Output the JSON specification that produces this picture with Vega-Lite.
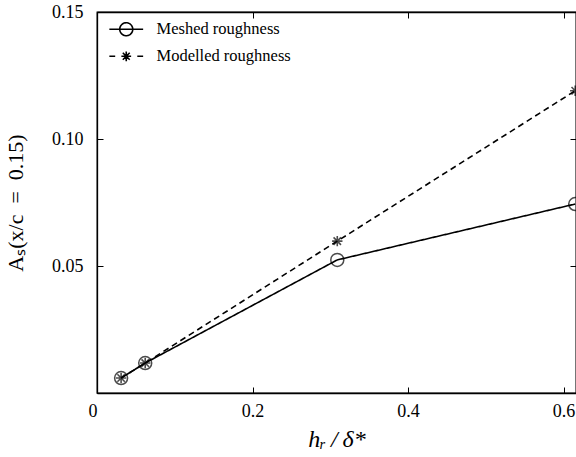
{
  "$schema": "https://vega.github.io/schema/vega-lite/v6.json",
  "width": 479,
  "height": 381,
  "autosize": "none",
  "padding": {"left": 97, "top": 12, "right": 0, "bottom": 64},
  "background": "white",
  "config": {
    "view": {"stroke": "black", "strokeWidth": 1.3},
    "font": "Liberation Serif",
    "axis": {
      "labelFont": "Liberation Serif",
      "titleFont": "Liberation Serif",
      "labelFontSize": 18,
      "titleFontSize": 22,
      "titleFontWeight": "normal",
      "labelColor": "black",
      "titleColor": "black",
      "domainColor": "black",
      "tickColor": "black",
      "domainWidth": 1.3,
      "tickWidth": 1,
      "grid": false,
      "tickSize": -6
    },
    "legend": {
      "labelFont": "Liberation Serif",
      "labelFontSize": 16.5,
      "labelColor": "black"
    }
  },
  "data": {
    "values": [
      {"series": "Meshed roughness", "hr": 0.031, "As": 0.0059},
      {"series": "Meshed roughness", "hr": 0.062, "As": 0.0118},
      {"series": "Meshed roughness", "hr": 0.309, "As": 0.0524},
      {"series": "Meshed roughness", "hr": 0.615, "As": 0.0744},
      {"series": "Modelled roughness", "hr": 0.031, "As": 0.0059},
      {"series": "Modelled roughness", "hr": 0.062, "As": 0.0118},
      {"series": "Modelled roughness", "hr": 0.309, "As": 0.0598},
      {"series": "Modelled roughness", "hr": 0.615, "As": 0.119}
    ]
  },
  "resolve": {"axis": {"x": "independent", "y": "independent"}},
  "layer": [
    {
      "mark": {"type": "line", "color": "black", "strokeWidth": 1.6, "clip": false},
      "encoding": {
        "x": {
          "field": "hr", "type": "quantitative",
          "scale": {"domain": [0, 0.616], "nice": false, "zero": false},
          "axis": {
            "orient": "bottom",
            "values": [0, 0.2, 0.4, 0.6],
            "labelExpr": "datum.value == 0 ? '0\u00a0\u00a0\u00a0\u00a0' : format(datum.value, '.1f')",
            "labelAlign": {"expr": "datum.value == 0 ? 'right' : 'center'"},
            "labelPadding": 15,
            "title": "hᵣ\u2009/\u2009δ*",
            "titleFontStyle": "italic",
            "titleFontSize": 24,
            "titlePadding": 7
          }
        },
        "y": {
          "field": "As", "type": "quantitative",
          "scale": {"domain": [0, 0.15], "nice": false},
          "axis": {
            "orient": "left",
            "values": [0, 0.05, 0.1, 0.15],
            "labelExpr": "datum.value == 0 ? '' : format(datum.value, '.2f')",
            "labelPadding": 20,
            "title": "Aₛ(x/c\u2002=\u20020.15)",
            "titleFontSize": 22,
            "titlePadding": 24
          }
        },
        "strokeDash": {
          "field": "series", "type": "nominal",
          "scale": {"domain": ["Meshed roughness", "Modelled roughness"], "range": [[1, 0], [6, 4]]},
          "legend": {
            "title": null,
            "orient": "none",
            "legendX": 21,
            "legendY": 9,
            "padding": 0,
            "symbolSize": 169,
            "symbolStrokeColor": "black",
            "symbolStrokeWidth": 1.6,
            "symbolFillColor": "transparent",
            "symbolOpacity": 1,
            "labelOffset": 22,
            "rowPadding": 9
          }
        }
      }
    },
    {
      "transform": [{"filter": "datum.series === 'Meshed roughness'"}],
      "mark": {"type": "point", "filled": false, "color": "black", "strokeWidth": 1.5, "size": 169, "clip": false, "shape": "M-1,0A1,1 0 1,1 1,0A1,1 0 1,1 -1,0Z"},
      "encoding": {
        "x": {"field": "hr", "type": "quantitative", "axis": null},
        "y": {"field": "As", "type": "quantitative", "axis": null}
      }
    },
    {
      "transform": [{"filter": "datum.series === 'Modelled roughness'"}],
      "mark": {"type": "point", "filled": false, "color": "black", "strokeWidth": 1.6, "size": 169, "clip": false, "shape": "M-0.8,0L0.8,0M0,-0.8L0,0.8M-0.57,-0.57L0.57,0.57M-0.57,0.57L0.57,-0.57"},
      "encoding": {
        "x": {"field": "hr", "type": "quantitative", "axis": null},
        "y": {"field": "As", "type": "quantitative", "axis": null}
      }
    },
    {
      "mark": {"type": "point", "opacity": 0, "filled": false, "color": "black"},
      "encoding": {
        "x": {
          "field": "hr", "type": "quantitative",
          "axis": {"orient": "top", "values": [0.2, 0.4, 0.6], "labels": false, "title": null}
        },
        "y": {
          "field": "As", "type": "quantitative",
          "axis": {"orient": "right", "values": [0.05, 0.1, 0.15], "labels": false, "title": null}
        },
        "shape": {
          "field": "series", "type": "nominal",
          "scale": {
            "domain": ["Meshed roughness", "Modelled roughness"],
            "range": [
              "M-2.6,0L2.6,0M-1,0A1,1 0 1,1 1,0A1,1 0 1,1 -1,0Z",
              "M-2.6,0L-1.7,0M1.7,0L2.6,0M0,0L0.75,0M0,0L-0.75,0M0,0L0,0.75M0,0L0,-0.75M0,0L0.53,0.53M0,0L-0.53,-0.53M0,0L0.53,-0.53M0,0L-0.53,0.53"
            ]
          },
          "legend": null
        }
      }
    }
  ]
}
